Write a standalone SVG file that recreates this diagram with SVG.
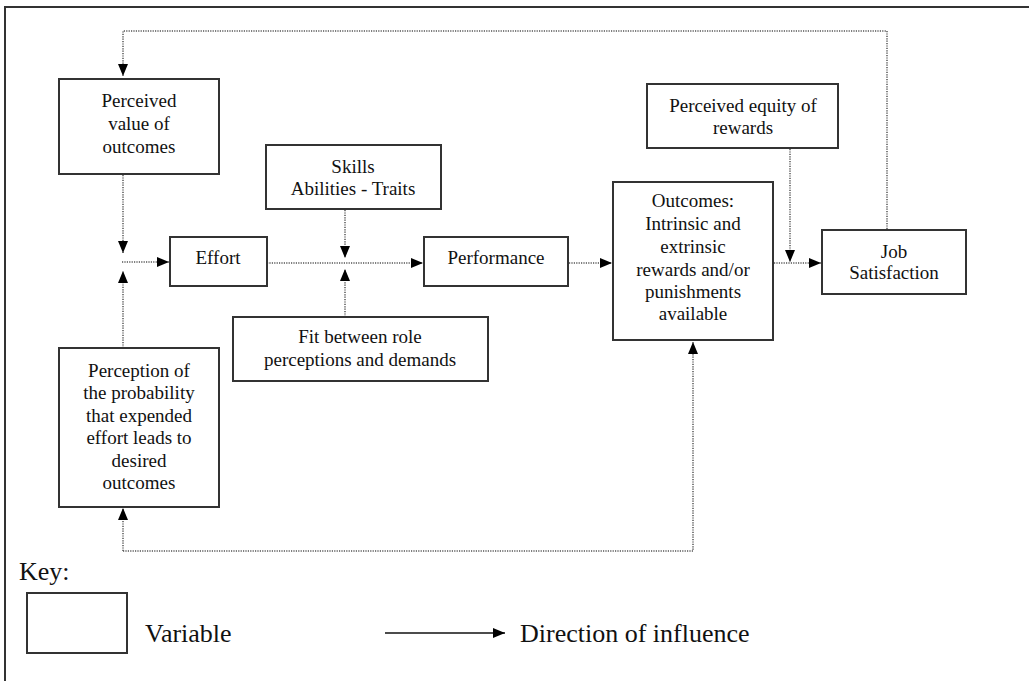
<svg xmlns="http://www.w3.org/2000/svg" width="1029" height="681" viewBox="0 0 1029 681">
<style>
.box{fill:#fff;stroke:#333;stroke-width:2}
.t{font-family:'Liberation Serif','Tinos','Times New Roman','DejaVu Serif',serif;font-size:19px;fill:#111;text-anchor:middle}
.k{font-family:'Liberation Serif','Tinos','Times New Roman','DejaVu Serif',serif;font-size:26px;fill:#111}
.dot{fill:none;stroke:#555;stroke-width:1.5;stroke-dasharray:1.2 1.2}
.solid{fill:none;stroke:#111;stroke-width:1.5}
</style>
<defs>
<marker id="ah" markerWidth="12" markerHeight="10" refX="12" refY="5" orient="auto" markerUnits="userSpaceOnUse">
<path d="M0,0 L12,5 L0,10 Z" fill="#000"/>
</marker>
</defs>
<rect width="1029" height="681" fill="#fff"/>
<path d="M5,681 V7 H1029" fill="none" stroke="#333" stroke-width="2"/>

<g id="connectors">
<path class="dot" d="M887,229 V31 H123 V76" marker-end="url(#ah)"/>
<path class="dot" d="M123,175 V253" marker-end="url(#ah)"/>
<path class="dot" d="M123,348 V271" marker-end="url(#ah)"/>
<path class="dot" d="M122,262 H169" marker-end="url(#ah)"/>
<path class="dot" d="M267,263 H423" marker-end="url(#ah)"/>
<path class="dot" d="M345,210 V258" marker-end="url(#ah)"/>
<path class="dot" d="M345,317 V269" marker-end="url(#ah)"/>
<path class="dot" d="M569,263 H612" marker-end="url(#ah)"/>
<path class="dot" d="M774,263 H821" marker-end="url(#ah)"/>
<path class="dot" d="M790,149 V262" marker-end="url(#ah)"/>
<path class="dot" d="M123,551 H693 V342" marker-end="url(#ah)"/>
<path class="dot" d="M123,551 V508" marker-end="url(#ah)"/>
</g>

<g id="perceived-value">
<rect class="box" x="59" y="79" width="160" height="95"/>
<text class="t" x="139" y="107">Perceived</text>
<text class="t" x="139" y="130">value of</text>
<text class="t" x="139" y="153">outcomes</text>
</g>
<g id="skills">
<rect class="box" x="266" y="145" width="175" height="64"/>
<text class="t" x="353" y="173">Skills</text>
<text class="t" x="353" y="195">Abilities - Traits</text>
</g>
<g id="equity">
<rect class="box" x="647" y="84" width="191" height="64"/>
<text class="t" x="743" y="112">Perceived equity of</text>
<text class="t" x="743" y="134">rewards</text>
</g>
<g id="effort">
<rect class="box" x="170" y="237" width="97" height="49"/>
<text class="t" x="218" y="264">Effort</text>
</g>
<g id="performance">
<rect class="box" x="424" y="237" width="144" height="49"/>
<text class="t" x="496" y="264">Performance</text>
</g>
<g id="outcomes">
<rect class="box" x="613" y="182" width="160" height="158"/>
<text class="t" x="693" y="207">Outcomes:</text>
<text class="t" x="693" y="230">Intrinsic and</text>
<text class="t" x="693" y="253">extrinsic</text>
<text class="t" x="693" y="276">rewards and/or</text>
<text class="t" x="693" y="298">punishments</text>
<text class="t" x="693" y="320">available</text>
</g>
<g id="job-satisfaction">
<rect class="box" x="822" y="230" width="144" height="64"/>
<text class="t" x="894" y="258">Job</text>
<text class="t" x="894" y="279">Satisfaction</text>
</g>
<g id="fit">
<rect class="box" x="233" y="317" width="255" height="64"/>
<text class="t" x="360" y="343">Fit between role</text>
<text class="t" x="360" y="366">perceptions and demands</text>
</g>
<g id="perception-probability">
<rect class="box" x="59" y="348" width="160" height="159"/>
<text class="t" x="139" y="377">Perception of</text>
<text class="t" x="139" y="399">the probability</text>
<text class="t" x="139" y="422">that expended</text>
<text class="t" x="139" y="444">effort leads to</text>
<text class="t" x="139" y="467">desired</text>
<text class="t" x="139" y="489">outcomes</text>
</g>

<g id="key">
<text class="k" x="19" y="580">Key:</text>
<rect class="box" x="27" y="593" width="100" height="60"/>
<text class="k" x="145" y="642">Variable</text>
<path class="solid" d="M385,633 H505" marker-end="url(#ah)"/>
<text class="k" x="520" y="642">Direction of influence</text>
</g>
</svg>
